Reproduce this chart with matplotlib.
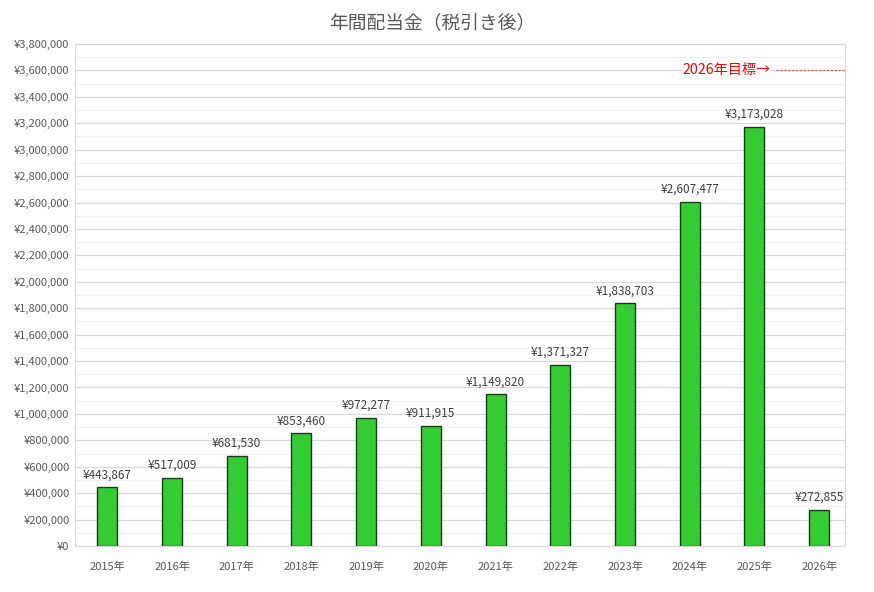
import numpy as np
import matplotlib
matplotlib.use('Agg')
import matplotlib.pyplot as plt
from matplotlib.ticker import FuncFormatter, MultipleLocator

plt.rcParams['font.family'] = ['Noto Sans CJK JP', 'DejaVu Sans']

#%% data
years = ['2015年', '2016年', '2017年', '2018年', '2019年', '2020年',
         '2021年', '2022年', '2023年', '2024年', '2025年', '2026年']
dividends = [443867, 517009, 681530, 853460, 972277, 911915,
             1149820, 1371327, 1838703, 2607477, 3173028, 272855]
target = 3600000

#%% plot
fig = plt.figure(figsize=(8.74, 5.92), dpi=100)
ax = fig.add_axes([0.0858, 0.0777, 0.881, 0.848])

x = np.arange(len(years))
ax.bar(x, dividends, width=0.31, color='#33cc33', edgecolor='#1e3a1e',
       linewidth=1.0, zorder=3)

for xi, v in zip(x, dividends):
    ax.text(xi, v + 45000, '¥{:,}'.format(v), ha='center', va='bottom',
            fontsize=8.5, color='#404040', zorder=4)

# target line
ax.plot([10.33, 11.4], [target, target], color='#ff4d4d', linestyle=(0, (2, 1.5)),
        linewidth=0.8, zorder=3)
ax.text(10.25, target, '2026年目標→', ha='right', va='center',
        fontsize=10.2, color='#ff0000', zorder=4,
        bbox=dict(facecolor='white', edgecolor='none', pad=0.5))

ax.set_xlim(-0.5, 11.4)
ax.set_ylim(0, 3800000)
ax.yaxis.set_major_locator(MultipleLocator(200000))
ax.yaxis.set_minor_locator(MultipleLocator(100000))
ax.yaxis.set_major_formatter(FuncFormatter(lambda v, p: '¥{:,.0f}'.format(v)))
ax.set_xticks(x)
ax.set_xticklabels(years)

ax.grid(axis='y', which='major', color='#d9d9d9', linewidth=0.9, zorder=0)
ax.grid(axis='y', which='minor', color='#f0f0f0', linewidth=0.9, zorder=0)
ax.set_axisbelow(True)

for s in ax.spines.values():
    s.set_color('#d9d9d9')
ax.tick_params(axis='both', which='both', length=0, colors='#595959', labelsize=8)
ax.tick_params(axis='x', pad=11)
ax.tick_params(axis='y', pad=4)

fig.text(0.494, 0.962, '年間配当金（税引き後）', ha='center', va='center',
         fontsize=13.5, color='#595959')

plt.savefig('out.png', dpi=100)
